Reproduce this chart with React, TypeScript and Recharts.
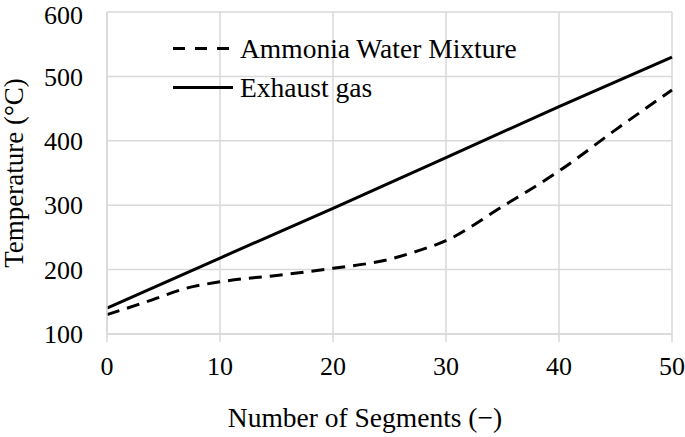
import { LineChart, Line, XAxis, YAxis, CartesianGrid, Legend } from "recharts";

const FONT = "Liberation Serif, Times New Roman, Times, serif";

const ammoniaWater = [
  { seg: 0, temp: 130 },
  { seg: 4, temp: 153 },
  { seg: 7, temp: 171 },
  { seg: 10, temp: 181 },
  { seg: 15, temp: 191 },
  { seg: 20, temp: 202 },
  { seg: 25, temp: 216 },
  { seg: 27.5, temp: 229 },
  { seg: 30, temp: 245 },
  { seg: 35, temp: 298 },
  { seg: 40, temp: 353 },
  { seg: 45, temp: 417 },
  { seg: 50, temp: 479 },
];

const exhaustGas = [
  { seg: 0, temp: 140 },
  { seg: 10, temp: 218 },
  { seg: 20, temp: 295 },
  { seg: 30, temp: 374 },
  { seg: 40, temp: 453 },
  { seg: 50, temp: 530 },
];

const xTicks = [0, 10, 20, 30, 40, 50];
const yTicks = [100, 200, 300, 400, 500, 600];

const gridColor = "#d9d9d9";

function LegendBox(props: any) {
  const items = props.payload || [];
  return (
    <div style={{ fontFamily: FONT, fontSize: 27.5, color: "#000" }}>
      {items.map((entry: any) => (
        <div
          key={entry.value}
          style={{ display: "flex", alignItems: "center", height: 39 }}
        >
          <svg width={60} height={39} style={{ display: "block" }}>
            <line
              x1={0}
              y1={19.5}
              x2={60}
              y2={19.5}
              stroke="#000"
              strokeWidth={3}
              strokeDasharray={entry.payload?.strokeDasharray ? "12 10" : undefined}
            />
          </svg>
          <span style={{ marginLeft: 7, lineHeight: "39px", whiteSpace: "nowrap" }}>
            {entry.value}
          </span>
        </div>
      ))}
    </div>
  );
}

function XTitle() {
  return (
    <text
      x={365}
      y={427}
      textAnchor="middle"
      style={{ fontFamily: FONT, fontSize: 27.5 }}
      fill="#000"
    >
      Number of Segments (−)
    </text>
  );
}

function YTitle(props: any) {
  const vb = props.viewBox;
  const cy = vb.y + vb.height / 2;
  return (
    <text
      x={0}
      y={0}
      transform={`translate(23, ${cy}) rotate(-90)`}
      textAnchor="middle"
      style={{ fontFamily: FONT, fontSize: 27 }}
      fill="#000"
    >
      Temperature (°C)
    </text>
  );
}

export default function App() {
  return (
    <div style={{ position: "absolute", left: 0, top: 0, background: "#fff", fontFamily: FONT }}>
      <LineChart
        width={685}
        height={437}
        margin={{ top: 12, right: 13, left: 0, bottom: 0 }}
        style={{ fontFamily: FONT }}
      >
        <CartesianGrid stroke={gridColor} strokeWidth={1.5} />
        <XAxis
          type="number"
          dataKey="seg"
          domain={[0, 50]}
          ticks={xTicks}
          height={103}
          stroke={gridColor}
          strokeWidth={1.5}
          tickSize={8}
          tickMargin={15}
          tick={{ fill: "#000", fontSize: 26, style: { fontFamily: FONT } }}
          label={<XTitle />}
        />
        <YAxis
          type="number"
          domain={[100, 600]}
          ticks={yTicks}
          width={107}
          stroke={gridColor}
          strokeWidth={1.5}
          tickLine={false}
          tickSize={0}
          tickMargin={24}
          tick={{ fill: "#000", fontSize: 26, style: { fontFamily: FONT } }}
          label={<YTitle />}
        />
        <Legend
          layout="vertical"
          align="center"
          verticalAlign="middle"
          content={<LegendBox />}
          wrapperStyle={{ left: 173, top: 29, width: "auto", height: "auto" }}
        />
        <Line
          data={ammoniaWater}
          dataKey="temp"
          name="Ammonia Water Mixture"
          type="monotone"
          stroke="#000"
          strokeWidth={3}
          strokeDasharray="13 8"
          dot={false}
          isAnimationActive={false}
        />
        <Line
          data={exhaustGas}
          dataKey="temp"
          name="Exhaust gas"
          type="linear"
          stroke="#000"
          strokeWidth={3}
          dot={false}
          isAnimationActive={false}
        />
      </LineChart>
    </div>
  );
}
